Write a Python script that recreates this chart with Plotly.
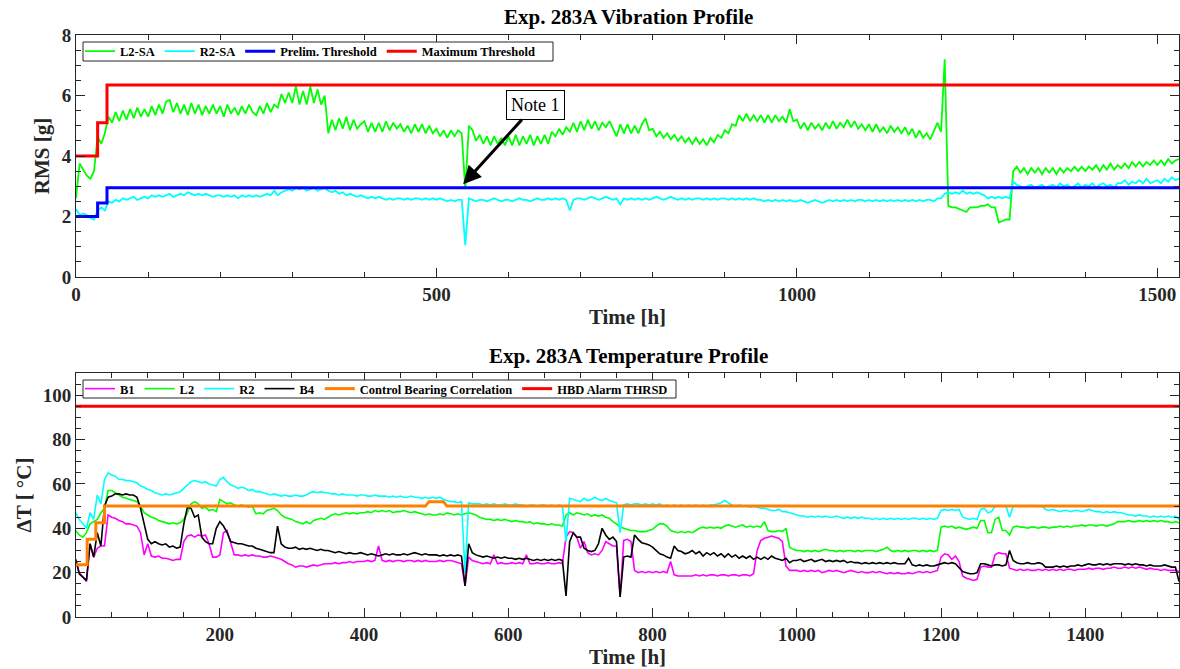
import numpy as np
import plotly.graph_objects as go

STEP_H = 5  # logging interval of the recorded channels [h]

# ---------------- vibration profile: RMS [g] ----------------
l2_sa = [
    2.6, 3.75, 3.55, 3.35, 3.25, 3.5, 4.65, 4.4, 4.75, 5.3,
    5.1, 5.45, 5.15, 5.5, 5.2, 5.55, 5.25, 5.6, 5.3, 5.55,
    5.3, 5.65, 5.35, 5.7, 5.4, 5.8, 5.85, 5.45, 5.75, 5.4,
    5.7, 5.35, 5.75, 5.4, 5.7, 5.35, 5.65, 5.4, 5.7, 5.4,
    5.65, 5.3, 5.7, 5.4, 5.6, 5.35, 5.65, 5.4, 5.7, 5.45,
    5.35, 5.65, 5.4, 5.75, 5.45, 5.7, 5.6, 6.05, 5.75, 6.1,
    5.75, 6.3, 5.7, 6.15, 5.7, 6.3, 5.75, 6.2, 5.7, 6.0,
    4.75, 5.2, 4.85, 5.25, 4.9, 5.3, 4.85, 5.2, 4.9, 5.05,
    5.15, 4.8, 5.1, 4.8, 5.1, 4.8, 5.15, 4.85, 5.1, 4.9,
    5.05, 4.8, 5.0, 4.75, 5.05, 4.8, 5.05, 4.75, 5.0, 4.75,
    4.9, 4.65, 4.85, 4.6, 4.85, 4.65, 4.85, 4.75, 2.9, 5.0,
    4.85, 4.5, 4.7, 4.4, 4.65, 4.35, 4.65, 4.4, 4.6, 4.35,
    4.65, 4.35, 4.7, 4.35, 4.65, 4.4, 4.7, 4.35, 4.65, 4.4,
    4.7, 4.4, 4.8, 4.65, 4.9, 4.7, 4.95, 4.8, 5.1, 4.8,
    5.15, 4.85, 5.2, 4.9, 5.15, 4.85, 5.1, 4.95, 5.15, 4.9,
    4.65, 5.05, 4.75, 5.05, 4.75, 5.0, 4.75, 5.05, 5.25, 4.85,
    4.9, 4.65, 4.8, 4.6, 4.75, 4.55, 4.7, 4.5, 4.65, 4.45,
    4.6, 4.4, 4.6, 4.4, 4.55, 4.35, 4.6, 4.45, 4.7, 4.6,
    4.85, 4.75, 5.05, 5.0, 5.35, 5.15, 5.4, 5.15, 5.35, 5.15,
    5.35, 5.1, 5.35, 5.1, 5.35, 5.15, 5.3, 5.1, 5.55, 5.15,
    5.2, 4.9, 5.1, 4.85, 5.1, 4.9, 5.05, 4.85, 5.1, 4.9,
    5.15, 4.9, 5.1, 4.95, 5.2, 4.95, 5.15, 4.9, 5.05, 4.85,
    5.05, 4.8, 5.05, 4.8, 4.95, 4.75, 5.0, 4.8, 4.95, 4.75,
    4.95, 4.7, 4.9, 4.6, 4.85, 4.6, 4.75, 4.55, 4.8, 5.1,
    4.8, 7.2, 2.35, 2.3, 2.3, 2.25, 2.2, 2.15, 2.3, 2.3,
    2.3, 2.35, 2.35, 2.4, 2.3, 2.3, 1.8, 1.85, 1.9, 1.9,
    3.5, 3.65, 3.45, 3.6, 3.4, 3.6, 3.45, 3.6, 3.4, 3.6,
    3.45, 3.6, 3.4, 3.6, 3.45, 3.6, 3.5, 3.65, 3.5, 3.65,
    3.5, 3.65, 3.55, 3.7, 3.5, 3.7, 3.55, 3.75, 3.55, 3.7,
    3.6, 3.75, 3.6, 3.8, 3.65, 3.8, 3.65, 3.8, 3.7, 3.85,
    3.7, 3.85, 3.7, 3.9, 3.75, 3.85, 3.9,
]
r2_sa = [
    2.25, 2.05, 2.1, 2.05, 1.95, 1.9, 2.2, 2.3, 2.2, 2.5,
    2.45, 2.55, 2.5, 2.6, 2.55, 2.6, 2.65, 2.55, 2.6, 2.65,
    2.6, 2.7, 2.65, 2.7, 2.65, 2.7, 2.75, 2.65, 2.7, 2.75,
    2.7, 2.8, 2.75, 2.7, 2.75, 2.7, 2.75, 2.7, 2.65, 2.7,
    2.7, 2.65, 2.7, 2.65, 2.7, 2.6, 2.7, 2.65, 2.7, 2.65,
    2.7, 2.65, 2.7, 2.75, 2.7, 2.85, 2.7, 2.8, 2.85, 2.9,
    2.85, 2.95, 2.9, 2.95, 2.85, 2.9, 2.95, 2.85, 2.9, 2.95,
    2.85, 2.8, 2.85, 2.75, 2.8, 2.7, 2.75, 2.7, 2.65, 2.7,
    2.65, 2.6, 2.65, 2.6, 2.65, 2.6, 2.55, 2.6, 2.55, 2.6,
    2.6, 2.55, 2.6, 2.55, 2.6, 2.6, 2.55, 2.6, 2.55, 2.6,
    2.55, 2.6, 2.55, 2.5, 2.55, 2.5, 2.55, 2.55, 1.05, 2.6,
    2.55, 2.5, 2.55, 2.55, 2.5, 2.55, 2.6, 2.55, 2.5, 2.55,
    2.55, 2.5, 2.55, 2.6, 2.55, 2.55, 2.5, 2.55, 2.6, 2.55,
    2.55, 2.6, 2.55, 2.6, 2.55, 2.6, 2.55, 2.2, 2.55, 2.6,
    2.6, 2.55, 2.6, 2.65, 2.6, 2.55, 2.6, 2.65, 2.6, 2.55,
    2.6, 2.4, 2.6, 2.55, 2.6, 2.55, 2.6, 2.55, 2.6, 2.55,
    2.6, 2.65, 2.6, 2.55, 2.6, 2.65, 2.6, 2.55, 2.6, 2.55,
    2.6, 2.55, 2.6, 2.6, 2.55, 2.6, 2.55, 2.6, 2.55, 2.6,
    2.6, 2.55, 2.6, 2.55, 2.6, 2.55, 2.6, 2.55, 2.6, 2.55,
    2.55, 2.5, 2.55, 2.5, 2.55, 2.5, 2.55, 2.5, 2.55, 2.5,
    2.5, 2.55, 2.5, 2.45, 2.5, 2.55, 2.5, 2.45, 2.5, 2.55,
    2.5, 2.55, 2.5, 2.55, 2.5, 2.55, 2.5, 2.55, 2.55, 2.5,
    2.55, 2.5, 2.55, 2.5, 2.55, 2.5, 2.55, 2.5, 2.55, 2.5,
    2.55, 2.5, 2.55, 2.5, 2.55, 2.5, 2.55, 2.55, 2.5, 2.6,
    2.6, 2.75, 2.8, 2.75, 2.8, 2.75, 2.85, 2.75, 2.8, 2.75,
    2.8, 2.75, 2.7, 2.6, 2.65, 2.6, 2.65, 2.6, 2.65, 2.6,
    3.15, 3.05, 3.0, 2.95, 3.0, 3.05, 2.95, 3.0, 3.05, 2.95,
    3.0, 3.05, 2.95, 3.1, 3.0, 3.05, 2.95, 3.0, 3.1, 2.95,
    3.05, 3.0, 3.1, 2.95, 3.05, 3.1, 3.0, 3.05, 2.95, 3.1,
    3.1, 3.2, 3.05, 3.15, 3.1, 3.2, 3.1, 3.25, 3.1, 3.15,
    3.2, 3.1, 3.25, 3.15, 3.3, 3.2, 3.25,
]

# alarm schedules: hour at which each level takes effect
thr_hours = [0, 30, 43, 1530]
prelim_thr = [2.0, 2.45, 2.95, 2.95]
max_thr = [4.0, 5.1, 6.35, 6.35]

# ---------------- temperature profile: delta T [deg C] ----------------
b1 = [
    26, 20, 18, 16, 33, 27, 31, 32, 32, 46,
    45, 44.5, 43.5, 43, 42, 42, 41.5, 41, 38, 28,
    33, 27.5, 27, 27.5, 26.5, 26.5, 26, 25.5, 26, 26,
    34, 36.5, 37, 36, 37, 36.5, 37, 33, 27, 27,
    28, 38, 39, 33, 28, 28, 27.5, 28, 27.5, 28,
    27.5, 27.5, 27, 27, 27.5, 27, 26.5, 26, 25, 24,
    23.5, 22.5, 23, 23, 22.5, 23, 23.5, 23, 23.5, 24,
    24, 24, 24.5, 24, 24.5, 24.5, 25, 24.5, 25, 25,
    25, 25.5, 25, 25.5, 32, 25.5, 25, 25.5, 25, 25.5,
    25.5, 25, 25.5, 25.5, 25, 25.5, 25, 25.5, 25, 25,
    25, 25.5, 25, 25.5, 25.5, 25, 24.5, 24, 14, 27,
    25.5, 25, 24.5, 24, 24.5, 24, 28, 24, 24.5, 24,
    24, 24.5, 24, 24.5, 24, 28, 24, 24, 24.5, 24,
    24, 24.5, 24, 24, 24.5, 24, 36, 38.5, 38, 36,
    31, 34, 29, 28, 28.5, 28, 30, 34, 33, 32,
    32, 9, 34.5, 35, 34, 21, 20, 20.5, 20, 20.5,
    20, 20.5, 20, 20.5, 20, 25, 19, 18.5, 18.5, 18.5,
    18.5, 18.5, 19, 18.5, 19, 18.5, 19, 19, 18.5, 19,
    19, 18.5, 19, 19, 18.5, 19, 19, 18.5, 19.5, 30,
    34.5, 35.5, 36, 36.5, 36, 35.5, 34, 23, 21, 21,
    21, 20.5, 21, 20.5, 21, 20.5, 21, 20, 20.5, 21,
    20.5, 21, 20.5, 20, 20.5, 21, 20.5, 20, 20.5, 20,
    20, 20.5, 20, 20.5, 20, 19.5, 20, 19.5, 20, 19.5,
    19.5, 20, 19.5, 20, 20.5, 20, 20.5, 20, 20.5, 21,
    27, 28.5, 28, 26, 27.5, 25, 18.5, 17.5, 17, 16.5,
    17, 22.5, 23, 22.5, 22.5, 28, 29, 28.5, 28.5, 22,
    21.5, 21, 21.5, 21, 21.5, 21, 21, 21.5, 21, 21.5,
    21, 21.5, 21, 21.5, 21, 21.5, 21.5, 21, 21.5, 21.5,
    21.5, 22, 21.5, 22, 22, 21.5, 22, 22, 22.5, 22,
    22, 22.5, 22, 22.5, 22, 22.5, 22, 21.5, 22, 21.5,
    21.5, 21, 21.5, 21, 21, 21, 20.5,
]
l2 = [
    39, 37, 36, 38, 42, 43, 44, 47, 49, 57,
    57, 56, 55, 54, 53.5, 53, 52.5, 52, 50, 47,
    46, 45, 44.5, 43.5, 43, 42.5, 42, 42.5, 42, 42.5,
    44, 47, 51, 52, 51, 49, 49.5, 48, 48.5, 47.5,
    53, 52, 51, 51.5, 50.5, 50, 50.5, 50, 49.5, 50,
    46.5, 47, 46.5, 48, 48.5, 49, 48, 46, 45, 44.5,
    44, 43, 42.5, 42, 43, 42, 43.5, 44, 44.5, 44,
    45, 46, 46.5, 46, 46.5, 47, 46.5, 47, 46.5, 47,
    47, 47.5, 47, 48, 47.5, 48, 47.5, 48, 47, 47.5,
    47.5, 48, 47.5, 47, 47.5, 47, 46.5, 46, 46.5, 46,
    46, 46.5, 46, 47, 46.5, 46, 46.5, 46, 46.5, 47,
    46.5, 46, 45, 44.5, 44, 44, 43.5, 44, 43.5, 44,
    43.5, 43, 43.5, 43, 43, 42.5, 43, 42, 42.5, 42,
    42, 41.5, 42, 41.5, 41.5, 41, 46, 47, 46, 47,
    46.5, 46, 46.5, 45.5, 46, 45.5, 46, 45, 44.5, 43,
    42, 40.5, 40, 39.5, 39, 39, 38.5, 38.5, 38.5, 39,
    39.5, 41, 42, 42, 41, 39, 38.5, 38, 38.5, 38,
    38.5, 38, 39, 40, 40.5, 40, 40.5, 40, 40.5, 40,
    41, 41.5, 41, 40.5, 41, 41.5, 40.5, 41, 40.5, 41,
    40.5, 43, 39, 38.5, 38.5, 39, 38.5, 40, 31.5, 30.5,
    30, 30, 29.5, 30, 29.5, 30, 29.5, 30, 30.5, 30,
    30, 29.5, 30, 29.5, 30, 30, 29.5, 30, 29.5, 30,
    30, 30, 29.5, 30, 30.5, 31.5, 30, 29.5, 30, 29.5,
    30, 29.5, 30, 30, 29.5, 30, 29.5, 30, 29.5, 30,
    40.5, 41, 40.5, 41, 40, 40.5, 40, 39.5, 40, 40.5,
    40, 43.5, 43.5, 38, 38, 44, 45, 39, 39, 37,
    40.5, 41, 40.5, 40.5, 40, 40.5, 40.5, 40, 40.5, 40.5,
    40, 40.5, 40.5, 41, 40.5, 41, 40.5, 41, 41, 41.5,
    41, 41.5, 41.5, 41, 41.5, 41.5, 41, 41.5, 42, 43,
    43, 43, 43.5, 43, 43, 43.5, 43, 43.5, 43, 43.5,
    43, 43.5, 43, 43, 42.5, 43, 42.5,
]
r2 = [
    47, 44, 42, 40, 47, 44, 55, 51, 62, 65,
    64, 63.5, 62, 62, 61.5, 61.5, 61, 60.5, 59, 58.5,
    57.5, 57, 56, 55.5, 55, 55.5, 55, 55.5, 56, 56.5,
    58, 59.5, 61, 61.5, 61, 60.5, 61, 60, 59.5, 59,
    62, 63, 61, 59.5, 59, 58, 58.5, 58, 57, 57.5,
    56.5, 56.5, 56, 55.5, 55, 55.5, 55, 54.5, 55, 54.5,
    54.5, 55, 54.5, 54.5, 55, 56, 56.5, 56, 56.5, 56,
    56, 55.5, 55.5, 55, 55.5, 55, 55, 55, 54.5, 55,
    55, 54.5, 54.5, 55, 54.5, 54.5, 54.5, 54, 54.5, 54,
    54.5, 54, 54, 54.5, 54, 54, 53.5, 54, 53.5, 54,
    53.5, 54, 53, 52.5, 52, 52, 51.5, 52, 20, 51.5,
    51, 51, 51, 50.5, 51, 50.5, 51, 50.5, 50.5, 51,
    50.5, 50.5, 51, 50.5, 50.5, 50, 50.5, 50.5, 50, 50.5,
    50.5, 50, 50.5, 50, 50.5, 50, 34, 53.5, 53, 52.5,
    52, 53.5, 52.5, 53, 54, 53, 52.5, 53.5, 52.5, 52,
    51.5, 38, 50.5, 51, 50.5, 51, 51, 50.5, 51, 50.5,
    51, 50.5, 51, 50, 50.5, 50, 50.5, 50, 50.5, 50,
    50.5, 50, 50.5, 50, 50.5, 50, 50.5, 50.5, 51, 51.5,
    52.5, 51.5, 50.5, 50, 50.5, 50, 50, 49.5, 50, 49.5,
    49, 49, 48.5, 48, 48, 48.5, 47.5, 47.5, 47, 46.5,
    46, 45.5, 45.5, 45, 45.5, 45, 45.5, 45, 45.5, 45,
    45, 45.5, 45, 44.5, 45, 44.5, 45, 44.5, 45, 44.5,
    44.5, 44, 44.5, 44, 44.5, 44, 44.5, 44, 44.5, 44,
    44.5, 44, 44.5, 44.5, 44, 44.5, 44, 44.5, 44, 44.5,
    48, 48.5, 48, 48.5, 48, 48.5, 45, 44.5, 44, 44.5,
    44, 48.5, 49, 47, 47.5, 50, 50, 50, 50, 45,
    50, 50.2, 50, 49.8, 50, 50.2, 50, 49.8, 50, 48.5,
    48, 48.5, 48, 47.5, 48, 48, 47.5, 48, 48, 47.5,
    48, 48.5, 48, 47.5, 47.5, 47, 47.5, 47, 47.5, 47,
    47, 46.5, 46, 46, 45.5, 46, 45.5, 45.5, 45, 45.5,
    45, 45.5, 45, 45.5, 45, 45.5, 44,
]
b4 = [
    26, 19.5, 18, 16.5, 33, 27, 38, 32, 50, 54,
    54.5, 55.5, 55.5, 55, 55.5, 55, 55, 54, 49, 42,
    35, 33, 34, 33, 32.5, 33, 31.5, 32, 31, 31.5,
    42, 49.5, 49, 45, 46, 36, 34, 33, 33, 40,
    43, 41, 38, 34, 33.5, 33, 33, 32.5, 32, 32,
    31, 30.5, 30, 29.5, 29, 29, 41, 33, 31.5, 31,
    31, 31.5, 30.5, 31, 30.5, 31, 30.5, 30, 30.5, 30,
    30, 29.5, 29, 29.5, 29, 28.5, 29, 28.5, 28.5, 29,
    28.5, 28, 28.5, 28, 27.5, 28, 28.5, 28, 28.5, 28,
    28, 28.5, 28, 28.5, 29, 28.5, 28, 28.5, 28, 28,
    28, 27.5, 28, 27.5, 28, 27.5, 28, 27.5, 14, 33,
    29, 28, 27.5, 27, 27.5, 27, 26.5, 27, 26.5, 27,
    26.5, 26.5, 26, 26.5, 26, 26.5, 26, 25.5, 26, 25.5,
    26, 25.5, 26, 25.5, 26, 25.5, 9.5, 34, 38, 36,
    36, 31, 30, 29.5, 30, 33, 40, 37, 35, 36,
    34, 9, 27, 27.5, 27, 37, 35, 33.5, 33, 32.5,
    31.5, 30, 28.5, 28, 27, 26.5, 32, 30, 29.5, 28.5,
    29, 30, 28.5, 29.5, 27.5, 29, 28, 29, 27.5, 28.5,
    27, 28.5, 27, 28, 26.5, 27.5, 26.5, 27.5, 26, 27,
    26, 27, 26, 27.5, 26.5, 26, 25.5, 26.5, 24.5, 25.5,
    25.5, 26, 25, 25.5, 26, 25, 25.5, 26, 25, 25.5,
    25, 25.5, 25, 25.5, 24.5, 25, 24.5, 24.5, 24, 24.5,
    24, 24.5, 24, 24.5, 24, 24.5, 24, 24.5, 24, 24,
    24, 26.5, 23.5, 23, 23.5, 23, 23.5, 23, 23, 23.5,
    24, 24.5, 24, 24.5, 24, 22, 20.5, 20, 19.5, 19.5,
    20, 24, 24, 23.5, 23, 23.5, 23.5, 23, 23.5, 30,
    25.5, 24.5, 24, 24, 24.5, 24, 24, 24.5, 24, 22.5,
    22.5, 22.5, 23, 22.5, 23, 22.5, 23, 23, 23.5, 23,
    23.5, 24, 23.5, 23.5, 24, 23.5, 24, 23.5, 24, 24,
    24, 23.5, 24, 23.5, 24, 23.5, 23.5, 23, 23.5, 23,
    23, 23, 23.5, 23, 22.5, 22.5, 16,
]

# control bearing correlation limit and hot-bearing-detector alarm
ctrl_hours = [0, 16, 16, 28, 28, 40, 40, 485, 490, 510, 515, 1530]
ctrl_limit = [23.5, 23.5, 35, 35, 42.5, 42.5, 50, 50, 52, 52, 50, 50]
hbd_hours = [0, 1530]
hbd_limit = [95, 95]

for name, s in [("l2_sa", l2_sa), ("r2_sa", r2_sa), ("b1", b1), ("l2", l2), ("r2", r2), ("b4", b4)]:
    assert len(s) == 307, (name, len(s))

hours = STEP_H * np.arange(len(l2_sa))

FONT = "Liberation Serif"
AX = "#262626"
W, H = 1180, 669

fig = go.Figure()

# --- vibration panel ---
fig.add_trace(go.Scatter(x=hours, y=l2_sa, name="L2-SA", mode="lines",
                         line=dict(color="#00ff00", width=1.8), xaxis="x", yaxis="y", legend="legend"))
fig.add_trace(go.Scatter(x=hours, y=r2_sa, name="R2-SA", mode="lines",
                         line=dict(color="#00ffff", width=1.8), xaxis="x", yaxis="y", legend="legend"))
fig.add_trace(go.Scatter(x=thr_hours, y=prelim_thr, name="Prelim. Threshold", mode="lines",
                         line=dict(color="#0000ff", width=3, shape="hv"), xaxis="x", yaxis="y", legend="legend"))
fig.add_trace(go.Scatter(x=thr_hours, y=max_thr, name="Maximum Threshold", mode="lines",
                         line=dict(color="#ff0000", width=3, shape="hv"), xaxis="x", yaxis="y", legend="legend"))

# --- temperature panel ---
fig.add_trace(go.Scatter(x=hours, y=b1, name="B1", mode="lines",
                         line=dict(color="#ff00ff", width=1.6), xaxis="x2", yaxis="y2", legend="legend2"))
fig.add_trace(go.Scatter(x=hours, y=l2, name="L2", mode="lines",
                         line=dict(color="#00ff00", width=1.6), xaxis="x2", yaxis="y2", legend="legend2"))
fig.add_trace(go.Scatter(x=hours, y=r2, name="R2", mode="lines",
                         line=dict(color="#00ffff", width=1.6), xaxis="x2", yaxis="y2", legend="legend2"))
fig.add_trace(go.Scatter(x=hours, y=b4, name="B4", mode="lines",
                         line=dict(color="#000000", width=1.6), xaxis="x2", yaxis="y2", legend="legend2"))
fig.add_trace(go.Scatter(x=ctrl_hours, y=ctrl_limit, name="Control Bearing Correlation", mode="lines",
                         line=dict(color="#ff8000", width=3), xaxis="x2", yaxis="y2", legend="legend2"))
fig.add_trace(go.Scatter(x=hbd_hours, y=hbd_limit, name="HBD Alarm THRSD", mode="lines",
                         line=dict(color="#ff0000", width=3), xaxis="x2", yaxis="y2", legend="legend2"))

tick_font = dict(family=FONT, size=19, color=AX, weight="bold")
title_font = dict(family=FONT, size=21, color=AX, weight="bold")
legend_font = dict(family=FONT, size=12.5, color="black", weight="bold")


def axis_style(**kw):
    base = dict(showline=True, linecolor=AX, linewidth=1, mirror="allticks",
                ticks="inside", ticklen=9, tickwidth=1, tickcolor=AX,
                tickfont=tick_font, showgrid=False, zeroline=False, automargin=False)
    base.update(kw)
    return base


def legend_style(y_center_px):
    # transparent legend laid over a compact framed box (drawn as a shape)
    return dict(x=80 / W, y=1 - y_center_px / H, xanchor="left", yanchor="middle", orientation="h",
                bgcolor="rgba(0,0,0,0)", borderwidth=0, font=legend_font)


def legend_box(x0, x1, y0, y1):
    return dict(type="rect", xref="paper", yref="paper", layer="above",
                x0=x0 / W, x1=x1 / W, y0=1 - y1 / H, y1=1 - y0 / H,
                fillcolor="white", line=dict(color=AX, width=1))


xdom = [76 / W, 1179 / W]
fig.update_layout(
    width=W, height=H,
    margin=dict(l=0, r=0, t=0, b=0),
    paper_bgcolor="white", plot_bgcolor="white",
    font=dict(family=FONT, color=AX),
    showlegend=True,
    xaxis=axis_style(domain=xdom, anchor="y", range=[0, 1530], tickmode="linear", tick0=0, dtick=500,
                     minor=dict(dtick=100, ticks="inside", ticklen=5, tickcolor=AX),
                     title=dict(text="Time [h]", font=title_font, standoff=5)),
    yaxis=axis_style(domain=[1 - 277 / H, 1 - 35 / H], anchor="x", range=[0, 8], tickmode="linear",
                     tick0=0, dtick=2,
                     minor=dict(dtick=0.5, ticks="inside", ticklen=5, tickcolor=AX),
                     title=dict(text="RMS [g]", font=title_font, standoff=6)),
    xaxis2=axis_style(domain=xdom, anchor="y2", range=[0.5, 1530], tickmode="linear", tick0=0, dtick=200,
                      minor=dict(dtick=50, ticks="inside", ticklen=5, tickcolor=AX),
                      title=dict(text="Time [h]", font=title_font, standoff=5)),
    yaxis2=axis_style(domain=[1 - 617 / H, 1 - 373 / H], anchor="x2", range=[0, 110], tickmode="linear",
                      tick0=0, dtick=20,
                      minor=dict(dtick=5, ticks="inside", ticklen=5, tickcolor=AX),
                      title=dict(text="ΔT [ °C]", font=title_font, standoff=5)),
    legend=legend_style(51.5),
    legend2=legend_style(389),
    shapes=[legend_box(83, 553, 42, 61), legend_box(83, 676, 380, 398)],
    annotations=[
        dict(text="Exp. 283A Vibration Profile", xref="paper", yref="paper",
             x=628 / W, y=1 - 17 / H, xanchor="center", yanchor="middle", showarrow=False,
             font=dict(family=FONT, size=21, color="black", weight="bold")),
        dict(text="Exp. 283A Temperature Profile", xref="paper", yref="paper",
             x=628 / W, y=1 - 356 / H, xanchor="center", yanchor="middle", showarrow=False,
             font=dict(family=FONT, size=21, color="black", weight="bold")),
        dict(text="Note 1", xref="x", yref="y", x=537, y=3.07,
             showarrow=True, arrowhead=2, arrowsize=1.2, arrowwidth=3, arrowcolor="black",
             axref="pixel", ayref="pixel", ax=72, ay=-79,
             bordercolor="black", borderwidth=1, borderpad=4, bgcolor="white",
             font=dict(family=FONT, size=18, color="black")),
    ],
)

fig.write_html("out.html")
